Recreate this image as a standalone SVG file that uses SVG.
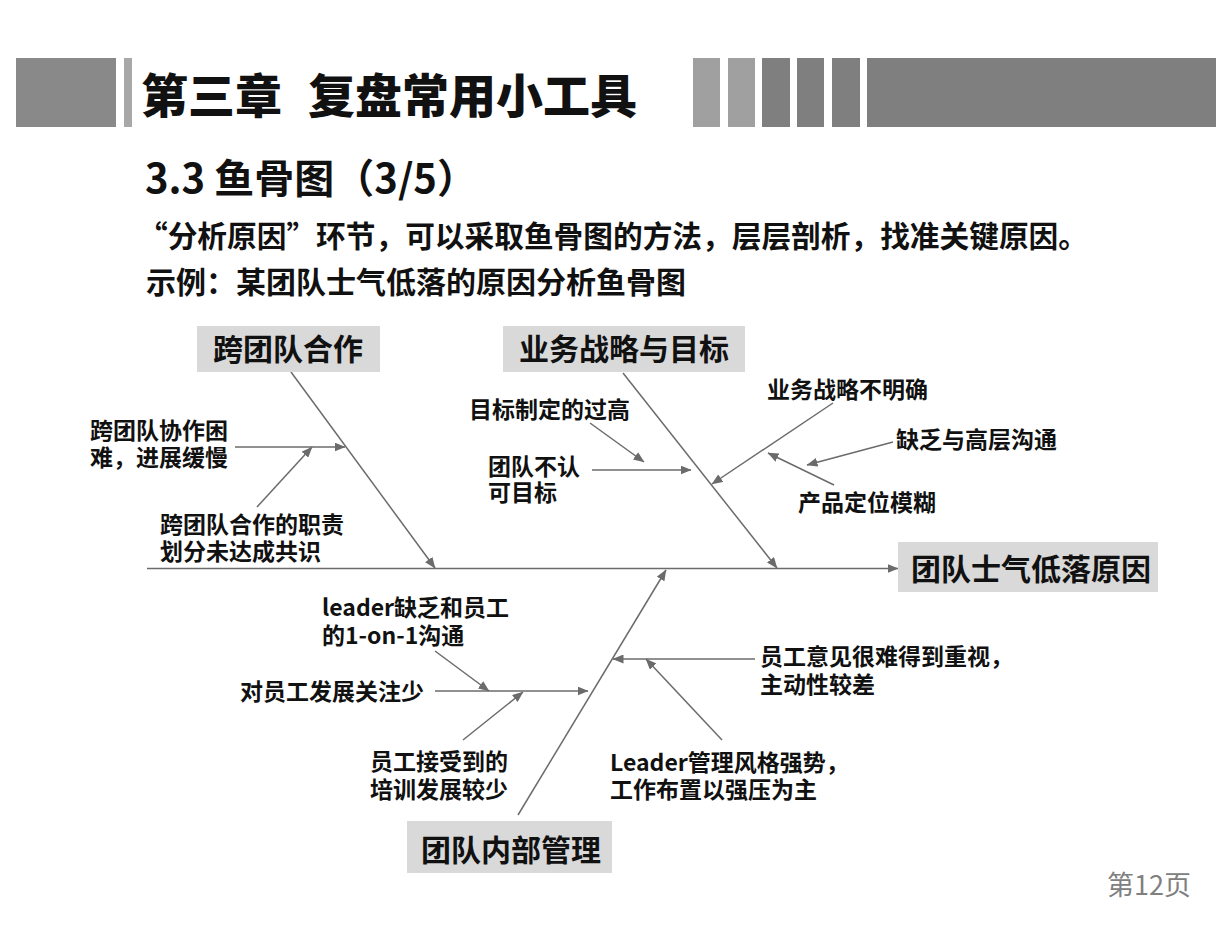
<svg xmlns="http://www.w3.org/2000/svg" width="1232" height="932" viewBox="0 0 1232 932">
<style>
text{font-family:"Noto Sans CJK SC","Noto Sans",sans-serif;font-weight:bold;fill:#111}
.lbl{font-size:23px}
.big{font-size:30px;text-anchor:middle}
.ttl{font-size:47px;font-weight:900}
.box{fill:#d9d9d9}
.ln{stroke:#6b6b6b;stroke-width:1.5;fill:none}
.arw{marker-end:url(#ah)}
</style>
<defs>
<marker id="ah" markerUnits="userSpaceOnUse" markerWidth="11" markerHeight="9" refX="10.5" refY="4.5" orient="auto" viewBox="0 0 11 9">
<path d="M0,0 L11,4.5 L0,9 z" fill="#6b6b6b"/>
</marker>
</defs>
<rect width="1232" height="932" fill="#fff"/>
<g id="header">
<rect x="16" y="58" width="100" height="69" fill="#898989"/>
<rect x="124" y="58" width="8" height="69" fill="#a8a8a8"/>
<text class="ttl" x="141" y="113">第三章</text>
<text class="ttl" x="308" y="113">复盘常用小工具</text>
<rect x="693" y="58" width="27" height="69" fill="#a0a0a0"/>
<rect x="728" y="58" width="27" height="69" fill="#a0a0a0"/>
<rect x="762" y="58" width="28" height="69" fill="#7f7f7f"/>
<rect x="797" y="58" width="27" height="69" fill="#7f7f7f"/>
<rect x="832" y="58" width="28" height="69" fill="#7f7f7f"/>
<rect x="867" y="58" width="349" height="69" fill="#7f7f7f"/>
</g>
<g id="intro">
<text x="145" y="193" style="font-size:40px">3.3 鱼骨图（3/5）</text>
<text x="138" y="247" style="font-size:29.7px">“分析原因”环节，可以采取鱼骨图的方法，层层剖析，找准关键原因。</text>
<text x="146" y="293" style="font-size:30px">示例：某团队士气低落的原因分析鱼骨图</text>
</g>
<g id="connectors">
<line class="ln arw" x1="147" y1="568.5" x2="898" y2="568.5"/>
<line class="ln arw" x1="291" y1="372" x2="435" y2="568"/>
<line class="ln arw" x1="623" y1="373" x2="777" y2="568"/>
<line class="ln arw" x1="518" y1="815" x2="666" y2="570"/>
<line class="ln arw" x1="235" y1="447" x2="345" y2="447"/>
<line class="ln arw" x1="257" y1="507" x2="312" y2="447"/>
<line class="ln arw" x1="590" y1="423" x2="644" y2="462"/>
<line class="ln arw" x1="592" y1="470" x2="691" y2="470"/>
<line class="ln arw" x1="833" y1="403" x2="712" y2="484"/>
<line class="ln arw" x1="893" y1="442" x2="807" y2="465"/>
<line class="ln arw" x1="834" y1="485" x2="768" y2="453"/>
<line class="ln arw" x1="435" y1="691" x2="588" y2="691"/>
<line class="ln arw" x1="435" y1="651" x2="489" y2="691"/>
<line class="ln arw" x1="463" y1="740" x2="523" y2="692"/>
<line class="ln arw" x1="755" y1="659" x2="613" y2="659"/>
<line class="ln arw" x1="722" y1="740" x2="646" y2="659"/>
</g>
<g id="node-head">
<rect class="box" x="898" y="542" width="260" height="50"/>
<text class="big" x="1031" y="580">团队士气低落原因</text>
</g>
<g id="node-cross-team">
<rect class="box" x="197" y="326" width="183" height="46"/>
<text class="big" x="288" y="360">跨团队合作</text>
</g>
<g id="node-strategy">
<rect class="box" x="503" y="326" width="242" height="46"/>
<text class="big" x="624" y="360">业务战略与目标</text>
</g>
<g id="node-internal">
<rect class="box" x="407" y="821" width="205" height="52"/>
<text class="big" x="511" y="861">团队内部管理</text>
</g>
<g id="cause-cross-1"><text class="lbl" x="90" y="439">跨团队协作困</text><text class="lbl" x="90" y="466">难，进展缓慢</text></g>
<g id="cause-cross-2"><text class="lbl" x="160" y="533">跨团队合作的职责</text><text class="lbl" x="160" y="560">划分未达成共识</text></g>
<g id="cause-goal-high"><text class="lbl" x="469" y="418">目标制定的过高</text></g>
<g id="cause-goal-accept"><text class="lbl" x="488" y="475">团队不认</text><text class="lbl" x="488" y="501">可目标</text></g>
<g id="cause-strategy-unclear"><text class="lbl" x="767" y="398">业务战略不明确</text></g>
<g id="cause-no-comm"><text class="lbl" x="896" y="448">缺乏与高层沟通</text></g>
<g id="cause-position"><text class="lbl" x="798" y="511">产品定位模糊</text></g>
<g id="cause-leader-1on1"><text class="lbl" x="322" y="616">leader缺乏和员工</text><text class="lbl" x="322" y="644">的1-on-1沟通</text></g>
<g id="cause-dev"><text class="lbl" x="240" y="700">对员工发展关注少</text></g>
<g id="cause-training"><text class="lbl" x="370" y="770">员工接受到的</text><text class="lbl" x="370" y="798">培训发展较少</text></g>
<g id="cause-opinion"><text class="lbl" x="760" y="665">员工意见很难得到重视，</text><text class="lbl" x="760" y="693">主动性较差</text></g>
<g id="cause-style"><text class="lbl" x="610" y="771">Leader管理风格强势，</text><text class="lbl" x="610" y="798">工作布置以强压为主</text></g>
<g id="page"><text x="1107" y="895" style="font-size:27px;font-weight:normal;fill:#808080">第12页</text></g>
</svg>
